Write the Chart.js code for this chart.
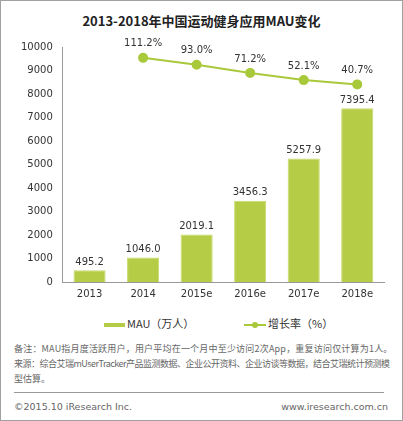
<!DOCTYPE html>
<html>
<head>
<meta charset="utf-8">
<script src="https://cdn.jsdelivr.net/npm/chart.js@4"></script>
<style>
  html, body { margin: 0; padding: 0; background: #fff; }
  #frame { position: relative; width: 401px; height: 419px; border: 1px solid #a0a0a0; overflow: hidden;
           font-family: "Noto Sans CJK SC", "DejaVu Sans", sans-serif; }
  #title { position: absolute; top: 10px; left: 0; width: 401px; text-align: center;
           font-size: 13px; font-weight: bold; color: #222; }
  #chartBox { position: absolute; left: 0; top: 30px; width: 400px; height: 275px; }
  .legend { position: absolute; top: 314px; font-size: 11px; color: #333; }
  .note { position: absolute; left: 13px; font-size: 9px; color: #666; white-space: nowrap; }
  #sep { position: absolute; left: 13px; top: 391px; width: 370px; height: 1px; background: #999; }
  .foot { position: absolute; top: 400px; font-size: 9.5px; color: #666; font-family: "DejaVu Sans", sans-serif; }
</style>
</head>
<body>
<div id="frame">
  <div id="title">2013-2018年中国运动健身应用MAU变化</div>
  <div id="chartBox"><canvas id="mauChart"></canvas></div>
  <div class="legend" style="left:103px;"><span style="display:inline-block;width:21px;height:4px;background:#b5cc46;vertical-align:middle;margin-right:2px;"></span>MAU（万人）</div>
  <div class="legend" style="left:243px;"><span style="display:inline-block;position:relative;width:22px;height:2px;background:#a8c93a;vertical-align:middle;margin-right:2px;"><span style="position:absolute;left:8px;top:-2px;width:6px;height:6px;border-radius:3px;background:#a8c93a;"></span></span>增长率（%）</div>
  <div class="note" style="top:341px;letter-spacing:0.2px;">备注：MAU指月度活跃用户，用户平均在一个月中至少访问2次App，重复访问仅计算为1人。</div>
  <div class="note" style="top:356px;letter-spacing:-0.5px;">来源：综合艾瑞mUserTracker产品监测数据、企业公开资料、企业访谈等数据，结合艾瑞统计预测模</div>
  <div class="note" style="top:371px;">型估算。</div>
  <div id="sep"></div>
  <div class="foot" style="left:13px;">©2015.10 iResearch Inc.</div>
  <div class="foot" style="right:14px;">www.iresearch.com.cn</div>
</div>
<script>
// 数据
const anos = ['2013', '2014', '2015e', '2016e', '2017e', '2018e'];
const mau = [495.2, 1046.0, 2019.1, 3456.3, 5257.9, 7395.4];
const crescimento = [null, 111.2, 93.0, 71.2, 52.1, 40.7];
const ticksY = [0, 1000, 2000, 3000, 4000, 5000, 6000, 7000, 8000, 9000, 10000];

const verde = '#b5cc46';
const verdeLinha = '#a8c93a';

// rótulos de valores sobre barras e pontos
const valueLabels = {
    id: 'valueLabels',
    afterDatasetsDraw(chart) {
        const ctx = chart.ctx;
        ctx.save();
        ctx.fillStyle = '#333';
        ctx.font = '10px "DejaVu Sans", sans-serif';
        ctx.textAlign = 'center';
        ctx.textBaseline = 'bottom';
        chart.getDatasetMeta(0).data.forEach((bar, i) => {
            ctx.fillText(mau[i].toFixed(1), bar.x, bar.y - 3);
        });
        chart.getDatasetMeta(1).data.forEach((pt, i) => {
            if (crescimento[i] == null) return;
            ctx.fillText(crescimento[i].toFixed(1) + '%', pt.x, pt.y - 9);
        });
        ctx.restore();
    }
};

new Chart(document.getElementById('mauChart'), {
    data: {
        labels: anos,
        datasets: [{
            type: 'bar',
            label: 'MAU（万人）',
            data: mau,
            backgroundColor: verde,
            borderColor: '#c6da6a',
            borderWidth: 1,
            categoryPercentage: 0.6,
            barPercentage: 1,
            yAxisID: 'y',
            order: 2
        }, {
            type: 'line',
            label: '增长率（%）',
            data: crescimento,
            borderColor: verdeLinha,
            backgroundColor: verdeLinha,
            borderWidth: 2,
            pointRadius: 4,
            pointHoverRadius: 4,
            yAxisID: 'y1',
            order: 1
        }]
    },
    options: {
        responsive: true,
        maintainAspectRatio: false,
        animation: false,
        layout: { padding: { left: 10, right: 17, top: 12, bottom: 0 } },
        plugins: {
            legend: { display: false },
            tooltip: { enabled: false }
        },
        scales: {
            x: {
                grid: { display: false, drawTicks: false },
                border: { color: '#999' },
                ticks: { color: '#333', font: { size: 10, family: '"DejaVu Sans", sans-serif' }, padding: 6 }
            },
            y: {
                min: 0,
                max: 10000,
                afterBuildTicks: axis => { axis.ticks = ticksY.map(v => ({ value: v })); },
                grid: { display: false, drawTicks: false },
                border: { color: '#999' },
                ticks: {
                    color: '#333',
                    font: { size: 10, family: '"DejaVu Sans", sans-serif' },
                    padding: 10,
                    callback: v => String(v)
                }
            },
            y1: {
                display: false,
                min: -484,
                max: 140
            }
        }
    },
    plugins: [valueLabels]
});
</script>
</body>
</html>
